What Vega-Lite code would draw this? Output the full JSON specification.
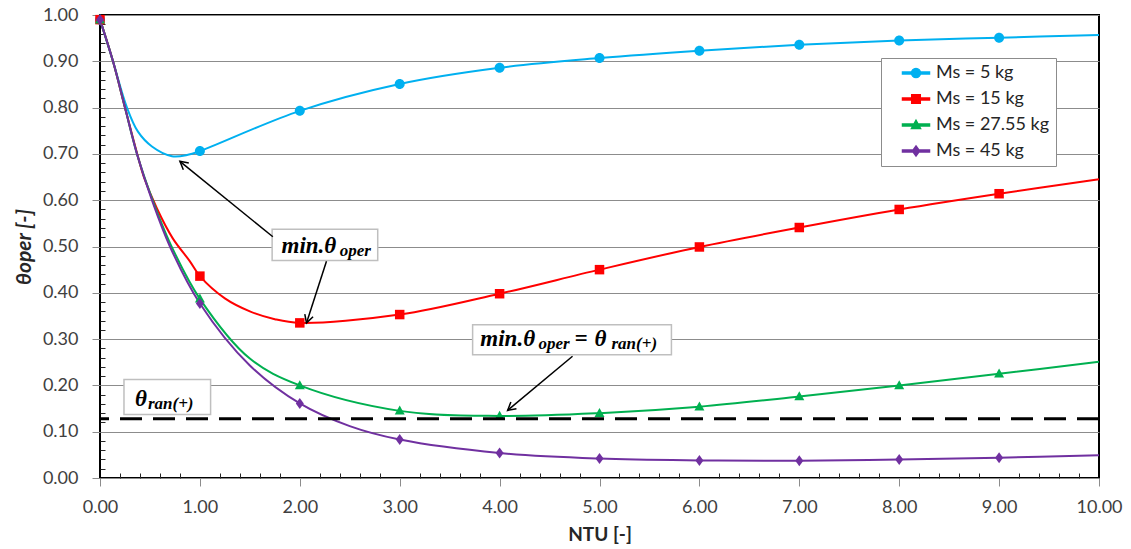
{
  "$schema": "https://vega.github.io/schema/vega-lite/v6.json",
  "width": 999,
  "height": 463,
  "autosize": {"type": "none"},
  "padding": {"left": 100, "top": 15, "right": 32, "bottom": 71},
  "background": "white",
  "config": {"view": {"stroke": "black", "strokeWidth": 2}, "font": "Lato"},
  "datasets": {
    "curves": [
      {"Ms": "Ms = 5 kg", "NTU": 0, "theta": 0.99},
      {"Ms": "Ms = 5 kg", "NTU": 0.13, "theta": 0.9},
      {"Ms": "Ms = 5 kg", "NTU": 0.27, "theta": 0.8},
      {"Ms": "Ms = 5 kg", "NTU": 0.38, "theta": 0.748},
      {"Ms": "Ms = 5 kg", "NTU": 0.52, "theta": 0.716},
      {"Ms": "Ms = 5 kg", "NTU": 0.72, "theta": 0.695},
      {"Ms": "Ms = 5 kg", "NTU": 0.88, "theta": 0.698},
      {"Ms": "Ms = 5 kg", "NTU": 1, "theta": 0.706},
      {"Ms": "Ms = 5 kg", "NTU": 2, "theta": 0.793},
      {"Ms": "Ms = 5 kg", "NTU": 3, "theta": 0.851},
      {"Ms": "Ms = 5 kg", "NTU": 4, "theta": 0.886},
      {"Ms": "Ms = 5 kg", "NTU": 5, "theta": 0.907},
      {"Ms": "Ms = 5 kg", "NTU": 6, "theta": 0.923},
      {"Ms": "Ms = 5 kg", "NTU": 7, "theta": 0.936},
      {"Ms": "Ms = 5 kg", "NTU": 8, "theta": 0.945},
      {"Ms": "Ms = 5 kg", "NTU": 9, "theta": 0.951},
      {"Ms": "Ms = 5 kg", "NTU": 10, "theta": 0.957},
      {"Ms": "Ms = 15 kg", "NTU": 0, "theta": 0.99},
      {"Ms": "Ms = 15 kg", "NTU": 0.13, "theta": 0.9},
      {"Ms": "Ms = 15 kg", "NTU": 0.25, "theta": 0.8},
      {"Ms": "Ms = 15 kg", "NTU": 0.37, "theta": 0.702},
      {"Ms": "Ms = 15 kg", "NTU": 0.44, "theta": 0.65},
      {"Ms": "Ms = 15 kg", "NTU": 0.57, "theta": 0.582},
      {"Ms": "Ms = 15 kg", "NTU": 0.73, "theta": 0.517},
      {"Ms": "Ms = 15 kg", "NTU": 0.9, "theta": 0.468},
      {"Ms": "Ms = 15 kg", "NTU": 1, "theta": 0.436},
      {"Ms": "Ms = 15 kg", "NTU": 1.25, "theta": 0.388},
      {"Ms": "Ms = 15 kg", "NTU": 1.5, "theta": 0.36},
      {"Ms": "Ms = 15 kg", "NTU": 1.75, "theta": 0.343},
      {"Ms": "Ms = 15 kg", "NTU": 2, "theta": 0.335},
      {"Ms": "Ms = 15 kg", "NTU": 3, "theta": 0.353},
      {"Ms": "Ms = 15 kg", "NTU": 4, "theta": 0.398},
      {"Ms": "Ms = 15 kg", "NTU": 5, "theta": 0.45},
      {"Ms": "Ms = 15 kg", "NTU": 6, "theta": 0.499},
      {"Ms": "Ms = 15 kg", "NTU": 7, "theta": 0.541},
      {"Ms": "Ms = 15 kg", "NTU": 8, "theta": 0.58},
      {"Ms": "Ms = 15 kg", "NTU": 9, "theta": 0.614},
      {"Ms": "Ms = 15 kg", "NTU": 10, "theta": 0.645},
      {"Ms": "Ms = 27.55 kg", "NTU": 0, "theta": 0.99},
      {"Ms": "Ms = 27.55 kg", "NTU": 0.13, "theta": 0.9},
      {"Ms": "Ms = 27.55 kg", "NTU": 0.25, "theta": 0.8},
      {"Ms": "Ms = 27.55 kg", "NTU": 0.37, "theta": 0.7},
      {"Ms": "Ms = 27.55 kg", "NTU": 0.52, "theta": 0.604},
      {"Ms": "Ms = 27.55 kg", "NTU": 0.71, "theta": 0.503},
      {"Ms": "Ms = 27.55 kg", "NTU": 1, "theta": 0.387},
      {"Ms": "Ms = 27.55 kg", "NTU": 1.5, "theta": 0.258},
      {"Ms": "Ms = 27.55 kg", "NTU": 2, "theta": 0.2},
      {"Ms": "Ms = 27.55 kg", "NTU": 3, "theta": 0.145},
      {"Ms": "Ms = 27.55 kg", "NTU": 4, "theta": 0.134},
      {"Ms": "Ms = 27.55 kg", "NTU": 5, "theta": 0.14},
      {"Ms": "Ms = 27.55 kg", "NTU": 6, "theta": 0.154},
      {"Ms": "Ms = 27.55 kg", "NTU": 7, "theta": 0.176},
      {"Ms": "Ms = 27.55 kg", "NTU": 8, "theta": 0.2},
      {"Ms": "Ms = 27.55 kg", "NTU": 9, "theta": 0.225},
      {"Ms": "Ms = 27.55 kg", "NTU": 10, "theta": 0.251},
      {"Ms": "Ms = 45 kg", "NTU": 0, "theta": 0.99},
      {"Ms": "Ms = 45 kg", "NTU": 0.13, "theta": 0.9},
      {"Ms": "Ms = 45 kg", "NTU": 0.25, "theta": 0.8},
      {"Ms": "Ms = 45 kg", "NTU": 0.37, "theta": 0.7},
      {"Ms": "Ms = 45 kg", "NTU": 0.52, "theta": 0.6},
      {"Ms": "Ms = 45 kg", "NTU": 0.7, "theta": 0.5},
      {"Ms": "Ms = 45 kg", "NTU": 1, "theta": 0.377},
      {"Ms": "Ms = 45 kg", "NTU": 1.5, "theta": 0.243},
      {"Ms": "Ms = 45 kg", "NTU": 2, "theta": 0.161},
      {"Ms": "Ms = 45 kg", "NTU": 2.5, "theta": 0.112},
      {"Ms": "Ms = 45 kg", "NTU": 3, "theta": 0.083},
      {"Ms": "Ms = 45 kg", "NTU": 4, "theta": 0.054},
      {"Ms": "Ms = 45 kg", "NTU": 5, "theta": 0.042},
      {"Ms": "Ms = 45 kg", "NTU": 6, "theta": 0.038},
      {"Ms": "Ms = 45 kg", "NTU": 7, "theta": 0.037},
      {"Ms": "Ms = 45 kg", "NTU": 8, "theta": 0.04},
      {"Ms": "Ms = 45 kg", "NTU": 9, "theta": 0.044},
      {"Ms": "Ms = 45 kg", "NTU": 10, "theta": 0.049}
    ],
    "threshold": [{"theta_ran": 0.128}],
    "boxes": [
      {"x": 1.723, "x2": 2.78, "y": 0.5375, "y2": 0.47},
      {"x": 3.73, "x2": 5.72, "y": 0.331, "y2": 0.266},
      {"x": 0.24, "x2": 1.107, "y": 0.2125, "y2": 0.137}
    ],
    "noteMain": [
      {"x": 1.817, "y": 0.485, "t": "min.θ"},
      {"x": 3.807, "y": 0.286, "t": "min.θ"},
      {"x": 4.75, "y": 0.286, "t": "="},
      {"x": 4.95, "y": 0.286, "t": "θ"},
      {"x": 0.35, "y": 0.155, "t": "θ"}
    ],
    "noteSub": [
      {"x": 2.4, "y": 0.48, "t": "oper"},
      {"x": 4.39, "y": 0.279, "t": "oper"},
      {"x": 5.12, "y": 0.279, "t": "ran(+)"},
      {"x": 0.48, "y": 0.149, "t": "ran(+)"}
    ],
    "arrows": [
      {"x": 1.73, "y": 0.521, "x2": 0.8, "y2": 0.684},
      {"x": 2.267, "y": 0.468, "x2": 2.067, "y2": 0.335},
      {"x": 4.73, "y": 0.263, "x2": 4.08, "y2": 0.146}
    ]
  },
  "layer": [
    {
      "data": {"name": "curves"},
      "mark": {"type": "line", "interpolate": "catmull-rom", "strokeWidth": 2},
      "encoding": {
        "x": {
          "field": "NTU", "type": "quantitative",
          "scale": {"domain": [0, 10], "nice": false, "zero": false},
          "axis": {
            "orient": "bottom", "offset": -5, "tickCount": 1000,
            "values": [0, 0.2, 0.4, 0.6, 0.8, 1, 1.2, 1.4, 1.6, 1.8, 2, 2.2, 2.4, 2.6, 2.8, 3, 3.2, 3.4, 3.6, 3.8, 4, 4.2, 4.4, 4.6, 4.8, 5, 5.2, 5.4, 5.6, 5.8, 6, 6.2, 6.4, 6.6, 6.8, 7, 7.2, 7.4, 7.6, 7.8, 8, 8.2, 8.4, 8.6, 8.8, 9, 9.2, 9.4, 9.6, 9.8, 10],
            "format": ".2f", "labelFlush": false, "labelOverlap": false,
            "labelExpr": "abs(datum.value - round(datum.value)) < 1e-6 ? datum.label : ''",
            "labelFont": "Lato", "labelFontSize": 18, "labelColor": "#404040", "labelPadding": 12,
            "tickSize": 13,
            "tickDash": {"condition": {"test": "abs(datum.value - round(datum.value)) < 1e-6", "value": [0, 5, 8, 30]}, "value": [5, 30]},
            "tickColor": {"condition": {"test": "abs(datum.value - round(datum.value)) < 1e-6", "value": "#8c8c8c"}, "value": "#262626"},
            "tickWidth": 1,
            "domain": false,
            "grid": false,
            "title": "NTU [-]", "titleFont": "Lato", "titleFontSize": 19, "titleFontWeight": "bold",
            "titleColor": "#262626", "titlePadding": 9
          }
        },
        "y": {
          "field": "theta", "type": "quantitative",
          "scale": {"domain": [0, 1], "nice": false},
          "axis": {
            "orient": "left", "offset": -5, "tickCount": 1000,
            "values": [0, 0.02, 0.04, 0.06, 0.08, 0.1, 0.12, 0.14, 0.16, 0.18, 0.2, 0.22, 0.24, 0.26, 0.28, 0.3, 0.32, 0.34, 0.36, 0.38, 0.4, 0.42, 0.44, 0.46, 0.48, 0.5, 0.52, 0.54, 0.56, 0.58, 0.6, 0.62, 0.64, 0.66, 0.68, 0.7, 0.72, 0.74, 0.76, 0.78, 0.8, 0.82, 0.84, 0.86, 0.88, 0.9, 0.92, 0.94, 0.96, 0.98, 1],
            "format": ".2f", "labelFlush": false, "labelOverlap": false,
            "labelExpr": "abs(datum.value * 10 - round(datum.value * 10)) < 1e-6 ? datum.label : ''",
            "labelFont": "Lato", "labelFontSize": 18, "labelColor": "#404040", "labelPadding": 14,
            "tickSize": 13,
            "tickDash": {"condition": {"test": "abs(datum.value * 10 - round(datum.value * 10)) < 1e-6", "value": [0, 5, 8, 30]}, "value": [5, 30]},
            "tickColor": {"condition": {"test": "abs(datum.value * 10 - round(datum.value * 10)) < 1e-6", "value": "#8c8c8c"}, "value": "#262626"},
            "tickWidth": 1,
            "domain": false,
            "grid": true, "gridColor": "#8c8c8c", "gridWidth": 1,
            "gridOpacity": {"condition": {"test": "abs(datum.value * 10 - round(datum.value * 10)) < 1e-6", "value": 1}, "value": 0},
            "title": "θoper [-]", "titleFont": "Lato", "titleFontSize": 21, "titleFontWeight": "bold",
            "titleFontStyle": "italic", "titleColor": "#262626", "titlePadding": 8
          }
        },
        "color": {
          "field": "Ms", "type": "nominal",
          "scale": {
            "domain": ["Ms = 5 kg", "Ms = 15 kg", "Ms = 27.55 kg", "Ms = 45 kg"],
            "range": ["#00B0F0", "#FF0000", "#00B050", "#7030A0"]
          },
          "legend": {
            "title": null,
            "orient": "none", "legendX": 781, "legendY": 43,
            "padding": 6, "rowPadding": 8,
            "strokeColor": "#8c8c8c", "fillColor": "white",
            "symbolSize": 81, "symbolOffset": 20,
            "labelOffset": 11, "labelFont": "Lato", "labelFontSize": 18, "labelColor": "#262626",
            "labelExpr": "datum.label + '   '"
          }
        }
      }
    },
    {
      "data": {"name": "curves"},
      "transform": [{"filter": "datum.Ms === 'Ms = 5 kg' && datum.NTU % 1 === 0 && datum.NTU < 10"}],
      "mark": {"type": "point", "shape": "M-1,0A1,1,0,1,1,1,0A1,1,0,1,1,-1,0Z", "filled": true, "size": 100, "opacity": 1},
      "encoding": {
        "x": {"field": "NTU", "type": "quantitative"},
        "y": {"field": "theta", "type": "quantitative"},
        "color": {"field": "Ms", "type": "nominal"}
      }
    },
    {
      "data": {"name": "curves"},
      "transform": [{"filter": "datum.Ms === 'Ms = 15 kg' && datum.NTU % 1 === 0 && datum.NTU < 10"}],
      "mark": {"type": "point", "shape": "M-0.95,-0.95L0.95,-0.95L0.95,0.95L-0.95,0.95Z", "filled": true, "size": 100, "opacity": 1},
      "encoding": {
        "x": {"field": "NTU", "type": "quantitative"},
        "y": {"field": "theta", "type": "quantitative"},
        "color": {"field": "Ms", "type": "nominal"}
      }
    },
    {
      "data": {"name": "curves"},
      "transform": [{"filter": "datum.Ms === 'Ms = 27.55 kg' && datum.NTU % 1 === 0 && datum.NTU < 10"}],
      "mark": {"type": "point", "shape": "M0,-1.05L1,0.75L-1,0.75Z", "filled": true, "size": 100, "opacity": 1},
      "encoding": {
        "x": {"field": "NTU", "type": "quantitative"},
        "y": {"field": "theta", "type": "quantitative"},
        "color": {"field": "Ms", "type": "nominal"}
      }
    },
    {
      "data": {"name": "curves"},
      "transform": [{"filter": "datum.Ms === 'Ms = 45 kg' && datum.NTU % 1 === 0 && datum.NTU < 10"}],
      "mark": {"type": "point", "shape": "M0,-1.1L0.8,0L0,1.1L-0.8,0Z", "filled": true, "size": 100, "opacity": 1},
      "encoding": {
        "x": {"field": "NTU", "type": "quantitative"},
        "y": {"field": "theta", "type": "quantitative"},
        "color": {"field": "Ms", "type": "nominal"}
      }
    },
    {
      "data": {"name": "curves"},
      "transform": [{"filter": "datum.NTU < 0"}],
      "mark": {"type": "point", "filled": true, "size": 81, "opacity": 1},
      "encoding": {
        "x": {"field": "NTU", "type": "quantitative"},
        "y": {"field": "theta", "type": "quantitative"},
        "color": {"field": "Ms", "type": "nominal"},
        "shape": {
          "field": "Ms", "type": "nominal",
          "scale": {
            "domain": ["Ms = 5 kg", "Ms = 15 kg", "Ms = 27.55 kg", "Ms = 45 kg"],
            "range": [
              "M-3,-0.22L3,-0.22L3,0.22L-3,0.22Z M-1,0A1,1,0,1,1,1,0A1,1,0,1,1,-1,0Z",
              "M-3,-0.22L3,-0.22L3,0.22L-3,0.22Z M-0.95,-0.95L0.95,-0.95L0.95,0.95L-0.95,0.95Z",
              "M-3,-0.22L3,-0.22L3,0.22L-3,0.22Z M0,-1.05L1,0.75L-1,0.75Z",
              "M-3,-0.22L3,-0.22L3,0.22L-3,0.22Z M0,-1.1L0.8,0L0,1.1L-0.8,0Z"
            ]
          }
        }
      }
    },
    {
      "data": {"name": "threshold"},
      "mark": {"type": "rule", "color": "black", "strokeWidth": 3, "strokeDash": [22, 11]},
      "encoding": {
        "y": {"field": "theta_ran", "type": "quantitative"}
      }
    },
    {
      "data": {"name": "boxes"},
      "mark": {"type": "rect", "fill": "white", "stroke": "#bfbfbf", "strokeWidth": 1.5},
      "encoding": {
        "x": {"field": "x", "type": "quantitative"},
        "x2": {"field": "x2"},
        "y": {"field": "y", "type": "quantitative"},
        "y2": {"field": "y2"}
      }
    },
    {
      "data": {"name": "noteMain"},
      "mark": {"type": "text", "font": "Liberation Serif", "fontStyle": "italic", "fontWeight": "bold", "fontSize": 23, "align": "left", "baseline": "alphabetic", "color": "black"},
      "encoding": {
        "x": {"field": "x", "type": "quantitative"},
        "y": {"field": "y", "type": "quantitative"},
        "text": {"field": "t"}
      }
    },
    {
      "data": {"name": "noteSub"},
      "mark": {"type": "text", "font": "Liberation Serif", "fontStyle": "italic", "fontWeight": "bold", "fontSize": 17, "align": "left", "baseline": "alphabetic", "color": "black"},
      "encoding": {
        "x": {"field": "x", "type": "quantitative"},
        "y": {"field": "y", "type": "quantitative"},
        "text": {"field": "t"}
      }
    },
    {
      "data": {"name": "arrows"},
      "mark": {"type": "rule", "color": "black", "strokeWidth": 1.5},
      "encoding": {
        "x": {"field": "x", "type": "quantitative"},
        "y": {"field": "y", "type": "quantitative"},
        "x2": {"field": "x2"},
        "y2": {"field": "y2"}
      }
    },
    {
      "data": {"name": "arrows"},
      "transform": [
        {"calculate": "atan2(-(datum.y2 - datum.y) * 463, (datum.x2 - datum.x) * 99.9) * 180 / PI", "as": "ang"}
      ],
      "mark": {"type": "point", "shape": "M-1,-0.55L0,0L-1,0.55", "filled": false, "color": "black", "strokeWidth": 1.5, "size": 250, "opacity": 1},
      "encoding": {
        "x": {"field": "x2", "type": "quantitative"},
        "y": {"field": "y2", "type": "quantitative"},
        "angle": {"field": "ang", "type": "quantitative", "scale": null}
      }
    }
  ]
}
